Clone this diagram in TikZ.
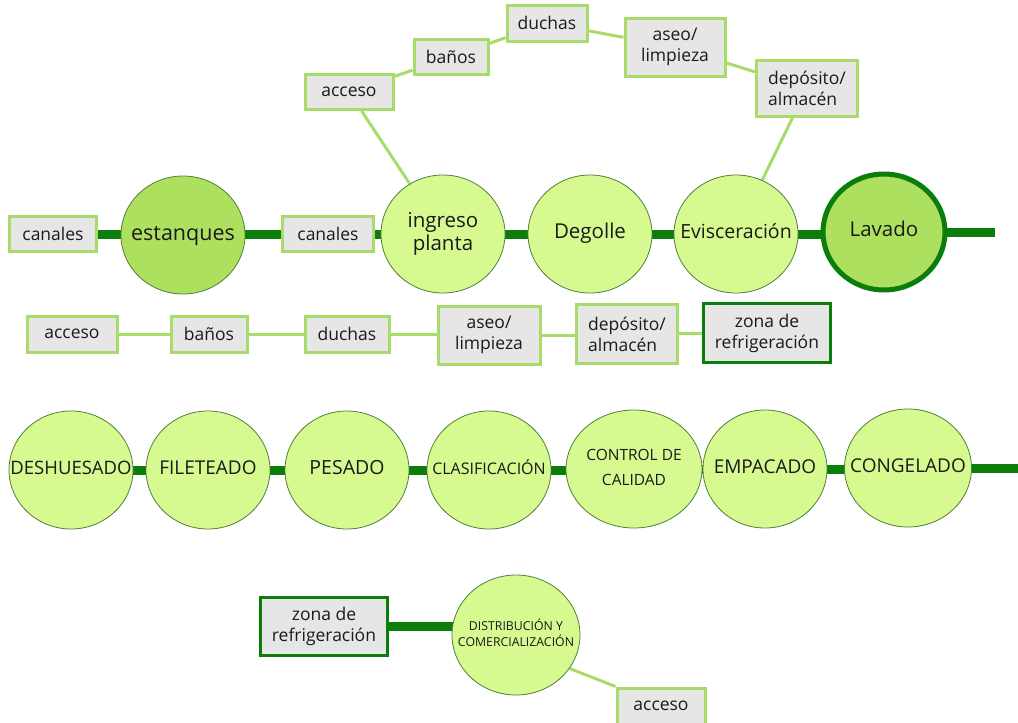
\documentclass[tikz,border=0pt]{standalone}
\usepackage{fontspec}
\setmainfont{Open Sans}
\usetikzlibrary{shapes.geometric,backgrounds}
\definecolor{lgreen}{HTML}{A8DC6A}
\definecolor{dgreen}{HTML}{0B7D0B}
\definecolor{boxgray}{HTML}{E6E6E6}
\definecolor{lightc}{HTML}{D6FA90}
\definecolor{midc}{HTML}{AEE060}
\definecolor{cedge}{HTML}{4F7F3A}
\definecolor{txt}{HTML}{1A1A1A}
\newcommand{\ct}[1]{\makebox[0pt]{\begin{tabular}{@{}c@{}}#1\end{tabular}}}
\newcommand{\fs}[1]{\fontsize{#1}{1.2\dimexpr#1pt\relax}\selectfont}
\tikzset{
  boxn/.style={draw=lgreen, line width=3pt, fill=boxgray, inner sep=0pt, text=txt, align=center, font=\fs{17.5}},
  dboxn/.style={boxn, draw=dgreen},
  circn/.style={ellipse, draw=cedge, line width=0.8pt, fill=lightc, minimum width=124pt, minimum height=118pt, inner sep=0pt, text=txt},
  midcirc/.style={circn, fill=midc},
  thickln/.style={draw=dgreen, line width=9pt},
  thinln/.style={draw=lgreen, line width=3pt},
}
\begin{document}
\begin{tikzpicture}[x=1pt,y=-1pt]
\useasboundingbox (0,0) rectangle (1018,723);
% Row 1
\node[boxn, minimum width=87pt, minimum height=35pt] (can1) at (53,234) {canales};
\node[midcirc, font=\fs{21.5}] (est) at (183,235) {\ct{estanques}};
\node[boxn, minimum width=91pt, minimum height=35pt] (can2) at (328,234) {canales};
\node[circn, font=\fs{20.5}] (ing) at (443,234) {\ct{ingreso\\[-2pt]planta}};
\node[circn, font=\fs{20.5}] (deg) at (590,234) {\ct{Degolle}};
\node[circn, font=\fs{19.5}] (evi) at (736,234) {\ct{Evisceración}};
\node[midcirc, draw=dgreen, line width=5pt, minimum width=122pt, minimum height=116pt, font=\fs{20.5}] (lav) at (884,232) {\ct{Lavado}};
\coordinate (lavend) at (995,232);
% top chain
\node[boxn, minimum width=88pt, minimum height=35pt] (acc1) at (349,92) {acceso};
\node[boxn, minimum width=74pt, minimum height=35pt] (ban1) at (451,57) {baños};
\node[boxn, minimum width=80pt, minimum height=36pt] (duc1) at (547,23) {duchas};
\node[boxn, minimum width=100pt, minimum height=58pt] (ase1) at (675,47) {aseo/\\limpieza};
\node[boxn, minimum width=101pt, minimum height=56pt, align=left] (dep1) at (807,88) {depósito/\\almacén};
% Row 2
\node[boxn, minimum width=90pt, minimum height=36pt] (acc2) at (72,334) {acceso};
\node[boxn, minimum width=76pt, minimum height=36pt] (ban2) at (209,334) {baños};
\node[boxn, minimum width=84pt, minimum height=36pt] (duc2) at (347,334) {duchas};
\node[boxn, minimum width=102pt, minimum height=58pt] (ase2) at (489,335) {aseo/\\limpieza};
\node[boxn, minimum width=101pt, minimum height=59pt, align=left] (dep2) at (627,334) {depósito/\\almacén};
\node[dboxn, minimum width=127pt, minimum height=59pt] (zon1) at (767,333) {zona de\\refrigeración};
% Row 3
\node[circn, font=\fs{18.5}] (des) at (71,470) {\ct{DESHUESADO}};
\node[circn, font=\fs{19}] (fil) at (208,470) {\ct{FILETEADO}};
\node[circn, font=\fs{19.5}] (pes) at (347,470) {\ct{PESADO}};
\node[circn, font=\fs{16}] (cla) at (489,470) {\ct{CLASIFICACIÓN}};
\node[circn, minimum width=136pt, font=\fs{15.5}] (con) at (634,469) {\ct{CONTROL DE\\[6pt]CALIDAD}};
\node[circn, font=\fs{19}] (emp) at (765,469) {\ct{EMPACADO}};
\node[circn, minimum width=127pt, font=\fs{19}] (cgl) at (908,468) {\ct{CONGELADO}};
\coordinate (cglend) at (1018,468);
% Row 4
\node[dboxn, minimum width=127pt, minimum height=58pt] (zon2) at (324,626) {zona de\\refrigeración};
\node[circn, minimum width=128pt, minimum height=120pt, font=\fs{12.3}] (dis) at (516,635) {\ct{DISTRIBUCIÓN Y\\COMERCIALIZACIÓN}};
\node[boxn, minimum width=88pt, minimum height=36pt] (acc3) at (661,706) {acceso};
% connectors
\begin{scope}[on background layer]
\draw[thickln] (can1.east) -- (can1.east -| est.center);
\draw[thickln] (can2.west) -- (can2.west -| est.center);
\draw[thickln] (can2.east) -- (can2.east -| ing.center);
\draw[thickln] (ing) -- (deg);
\draw[thickln] (deg) -- (evi);
\draw[thickln] (evi.center) -- (evi.center -| lav.center);
\draw[thickln] (lav.center) -- (lavend);
\draw[thinln] (ing) -- (acc1);
\draw[thinln] (acc1) -- (ban1);
\draw[thinln] (ban1) -- (duc1);
\draw[thinln] (duc1) -- (ase1);
\draw[thinln] (ase1) -- (dep1);
\draw[thinln] (dep1) -- (evi);
\draw[thinln] (acc2) -- (ban2);
\draw[thinln] (ban2) -- (duc2);
\draw[thinln] (duc2.east) -- (duc2.east -| ase2.west);
\draw[thinln] (ase2.east) -- (ase2.east -| dep2.west);
\draw[thinln] (dep2) -- (zon1);
\draw[thickln] (des) -- (fil);
\draw[thickln] (fil) -- (pes);
\draw[thickln] (pes) -- (cla);
\draw[thickln] (cla.center) -- (cla.center -| con.center);
\draw[thickln] (con) -- (emp);
\draw[thickln] (emp.center) -- (emp.center -| cgl.center);
\draw[thickln] (cgl.center) -- (cglend);
\draw[thickln] (zon2.east) -- (zon2.east -| dis.center);
\draw[thinln] (dis.-32) -- (acc3.north west);
\end{scope}
\end{tikzpicture}
\end{document}
